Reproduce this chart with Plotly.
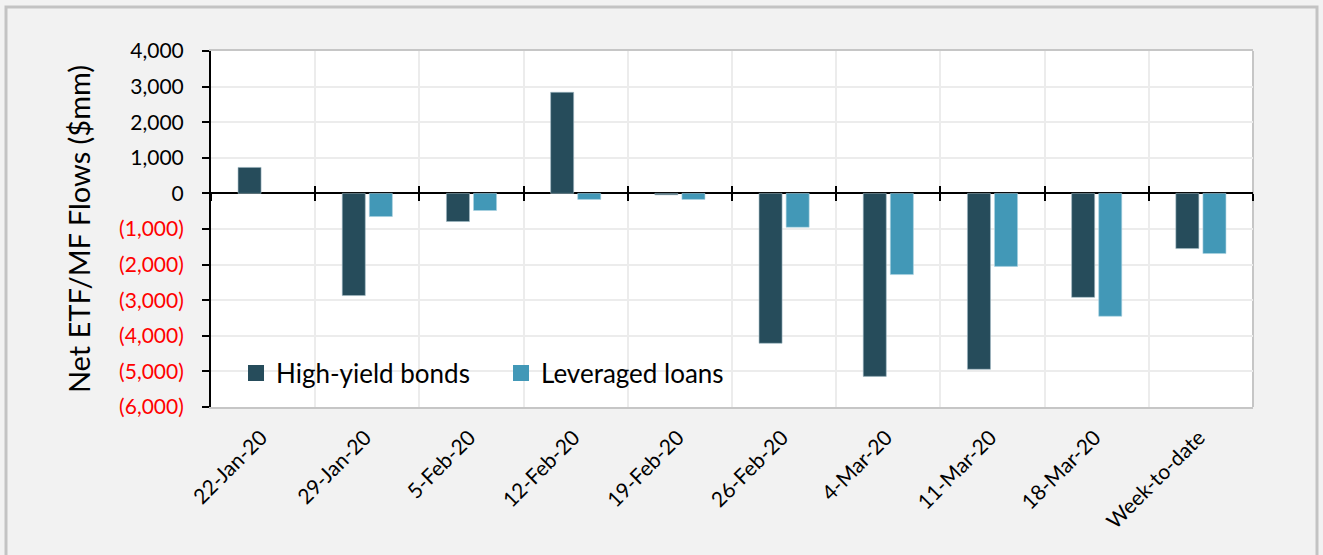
import plotly.graph_objects as go

categories = ["22-Jan-20", "29-Jan-20", "5-Feb-20", "12-Feb-20", "19-Feb-20",
              "26-Feb-20", "4-Mar-20", "11-Mar-20", "18-Mar-20", "Week-to-date"]
high_yield = [730, -2870, -790, 2840, -40, -4210, -5140, -4940, -2920, -1550]
lev_loans = [None, -650, -480, -170, -170, -950, -2280, -2050, -3450, -1690]

y_tick_vals = [4000, 3000, 2000, 1000, 0, -1000, -2000, -3000, -4000, -5000, -6000]
y_tick_text = ["4,000", "3,000", "2,000", "1,000", "0",
               "(1,000)", "(2,000)", "(3,000)", "(4,000)", "(5,000)", "(6,000)"]

FONT = "Lato, Calibri, Carlito, sans-serif"
HY_COLOR = "#264c5b"
LL_COLOR = "#4298b7"

def tick_label(v, t):
    return f'<span style="color:#ff0000">{t}</span>' if v < 0 else t

fig = go.Figure()
fig.add_trace(go.Bar(x=categories, y=high_yield, name="High-yield bonds", showlegend=False,
                     marker=dict(color=HY_COLOR, line=dict(color="rgba(160,185,195,0.6)", width=1))))
fig.add_trace(go.Bar(x=categories, y=lev_loans, name="Leveraged loans", showlegend=False,
                     marker=dict(color=LL_COLOR, line=dict(color="rgba(170,210,225,0.6)", width=1))))

# legend-only entries with larger square swatches
for name, col in [("High-yield bonds", HY_COLOR), ("Leveraged loans", LL_COLOR)]:
    fig.add_trace(go.Scatter(x=[None], y=[None], mode="markers", name=name,
                             marker=dict(symbol="square", size=16, color=col),
                             showlegend=True, hoverinfo="skip"))

# invisible helper traces for the boundary tick marks crossing the zero line
for ax in ["x2", "x3"]:
    fig.add_trace(go.Scatter(x=categories, y=[0] * len(categories), xaxis=ax, yaxis="y",
                             mode="markers", marker=dict(opacity=0), showlegend=False,
                             hoverinfo="skip"))

y_min, y_max = -6000, 4000
zero_pos = (0 - y_min) / (y_max - y_min)

fig.update_layout(
    width=1323, height=555,
    margin=dict(l=211, r=70, t=51, b=148),
    paper_bgcolor="#f2f2f2",
    plot_bgcolor="#ffffff",
    font=dict(family=FONT, color="#000000"),
    barmode="group",
    bargap=0.48,
    bargroupgap=0.15,
    showlegend=True,
    legend=dict(orientation="h", x=0.024, y=0.095, xanchor="left", yanchor="middle",
                bgcolor="rgba(0,0,0,0)", font=dict(size=26, family=FONT),
                itemsizing="trace", tracegroupgap=0, entrywidth=220, entrywidthmode="pixels"),
    xaxis=dict(type="category", categoryorder="array", categoryarray=categories,
               tickson="boundaries", showgrid=True, gridcolor="#ececec", gridwidth=2,
               ticks="", tickangle=-45, tickfont=dict(size=21, family=FONT),
               ticklabelstandoff=8, ticklabelshift=-2,
               showline=True, linecolor="#c6c6c6", linewidth=2, mirror=True,
               range=[-0.5, 9.5]),
    xaxis2=dict(type="category", categoryorder="array", categoryarray=categories,
                overlaying="x", anchor="free", position=zero_pos, side="bottom",
                tickson="boundaries", ticks="outside", ticklen=7, tickwidth=2,
                tickcolor="#000000", showticklabels=False, showgrid=False,
                showline=False, range=[-0.5, 9.5]),
    xaxis3=dict(type="category", categoryorder="array", categoryarray=categories,
                overlaying="x", anchor="free", position=zero_pos, side="bottom",
                tickson="boundaries", ticks="inside", ticklen=7, tickwidth=2,
                tickcolor="#000000", showticklabels=False, showgrid=False,
                showline=False, range=[-0.5, 9.5]),
    yaxis=dict(range=[y_min, y_max], tickvals=y_tick_vals,
               ticktext=[tick_label(v, t) for v, t in zip(y_tick_vals, y_tick_text)],
               showgrid=True, gridcolor="#ececec", gridwidth=2,
               zeroline=True, zerolinecolor="#000000", zerolinewidth=2,
               showline=True, linecolor="#000000", linewidth=2,
               ticks="outside", ticklen=7, tickwidth=2, tickcolor="#000000",
               tickfont=dict(size=21, family=FONT), ticklabelstandoff=14,
               title=dict(text="Net ETF/MF Flows ($mm)", font=dict(size=29, family=FONT),
                          standoff=20)),
    shapes=[
        dict(type="rect", xref="paper", yref="paper", x0=1.0, x1=1.0, y0=0, y1=1,
             line=dict(color="#c6c6c6", width=2), layer="below"),
        dict(type="rect", xref="paper", yref="paper",
             x0=(6 - 211) / 1042, x1=(1317 - 211) / 1042,
             y0=(407 - 600) / 356, y1=(407 - 7) / 356,
             line=dict(color="#c3c3c3", width=3), fillcolor="rgba(0,0,0,0)", layer="below"),
    ],
)

fig.write_html("out.html")
